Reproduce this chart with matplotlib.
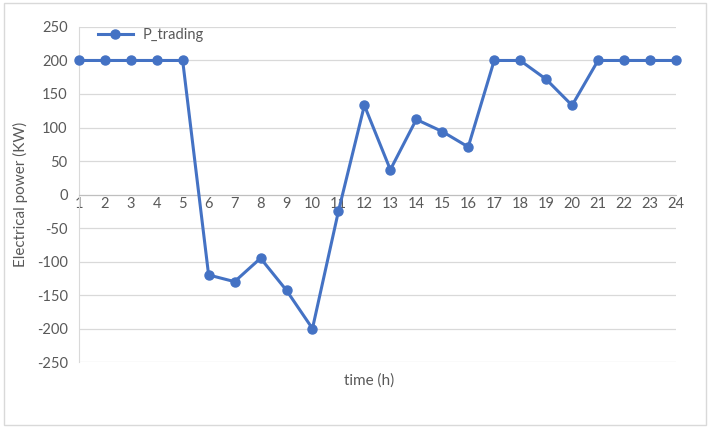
import matplotlib.pyplot as plt
from matplotlib.patches import Rectangle

# hourly trading power
hours = list(range(1, 25))
p_trading = [200, 200, 200, 200, 200, -120, -130, -95, -143, -200, -25, 133,
             37, 112, 94, 71, 200, 200, 172, 133, 200, 200, 200, 200]
y_ticks = list(range(-250, 251, 50))

plt.rcParams['font.family'] = ['Lato', 'DejaVu Sans']
plt.rcParams['axes.unicode_minus'] = False
text_col = '#595959'
blue = '#4472C4'

fig = plt.figure(figsize=(7.1, 4.28), dpi=100)
ax = fig.add_axes([0.111, 0.154, 0.841, 0.783])

# outer chart border like Excel
fig.patches.append(Rectangle((0.006, 0.007), 0.988, 0.986, transform=fig.transFigure,
                             fill=False, edgecolor='#D9D9D9', linewidth=1))

ax.plot(hours, p_trading, color=blue, linewidth=2.2, marker='o', markersize=6.5,
        label='P_trading', zorder=3, clip_on=False)

ax.set_xlim(1, 24)
ax.set_ylim(-250, 250)
ax.set_yticks(y_ticks)
ax.set_xticks(hours)
ax.grid(axis='y', color='#D9D9D9', linewidth=0.9)
ax.set_axisbelow(True)

for s in ['top', 'right']:
    ax.spines[s].set_visible(False)
ax.spines['left'].set_color('#D9D9D9')
ax.spines['bottom'].set_position(('data', 0))
ax.spines['bottom'].set_color('#BFBFBF')
ax.tick_params(axis='both', length=0, labelsize=10.5, labelcolor=text_col)
ax.tick_params(axis='x', pad=2)
ax.tick_params(axis='y', pad=8)

ax.set_ylabel('Electrical power (KW)', fontsize=11, color=text_col, labelpad=6)
fig.text(0.52, 0.11, 'time (h)', ha='center', va='center', fontsize=11, color=text_col)

ax.legend(loc='upper left', bbox_to_anchor=(0.01, 1.035), frameon=False,
          fontsize=10.5, labelcolor=text_col, handlelength=2.4, handletextpad=0.7)

fig.savefig('out.png', dpi=100)
